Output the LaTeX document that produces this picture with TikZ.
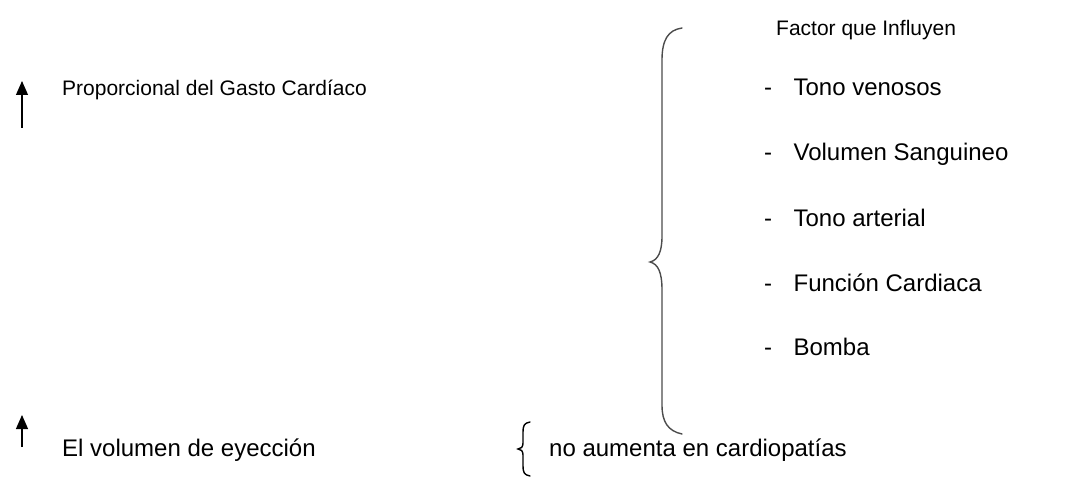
\documentclass[tikz,border=0pt]{standalone}
\usepackage{fontspec}
\setmainfont{Liberation Sans}
\usetikzlibrary{positioning,arrows.meta}
\begin{document}
\begin{tikzpicture}[x=1pt, y=-1pt, node distance=21pt,
        txt/.style = {font=\fontsize{24}{28}\selectfont, inner sep=0pt, anchor=west,
            text height=17pt, text depth=5pt},
        small/.style = {txt, font=\fontsize{21}{25}\selectfont},
        up/.style = {-{Triangle[width=12pt,length=14pt]}, line width=1.2pt},
        brace/.style = {line width=1.4pt, black!70, line cap=round}]
            \useasboundingbox (0,0) rectangle (1088,500);

            % arrows
            \coordinate (a1) at (22,128);
            \coordinate (b1) at (22,81);
            \coordinate (a2) at (22,447);
            \coordinate (b2) at (22,415);
            \draw[up] (a1) -- (b1);
            \draw[up] (a2) -- (b2);

            \node[small] (gasto) at (62,90) {Proporcional del Gasto Cardíaco};
            \node[txt] (eyec) at (62,450) {El volumen de eyección};

            % big brace
            \draw[brace] (682,28) .. controls (668,30) and (662,40) .. (662,60)
                -- (662,236) .. controls (662,252) and (658,260) .. (650,262)
                .. controls (658,264) and (662,272) .. (662,290)
                -- (662,405) .. controls (662,422) and (668,431) .. (682,434);

            \node[small] (fac) at (776,30) {Factor que Influyen};
            \node[txt] (d1) at (764,90) {-};
            \node[txt] (d2) at (764,155) {-};
            \node[txt] (d3) at (764,220) {-};
            \node[txt] (d4) at (764,285) {-};
            \node[txt] (d5) at (764,349) {-};
            \node[txt] (1) [right=of d1] {Tono venosos};
            \node[txt] (2) [right=of d2] {Volumen Sanguineo};
            \node[txt] (3) [right=of d3] {Tono arterial};
            \node[txt] (4) [right=of d4] {Función Cardiaca};
            \node[txt] (5) [right=of d5] {Bomba};

            % small brace
            \draw[brace, black] (530,422) .. controls (524,423) and (523,426) .. (523,432)
                -- (523,443) .. controls (523,447) and (521,449) .. (518,449)
                .. controls (521,449) and (523,451) .. (523,455)
                -- (523,466) .. controls (523,472) and (524,475) .. (530,476);
            \node[txt] (nocard) at (549,450) {no aumenta en cardiopatías};

        \end{tikzpicture}
\end{document}
